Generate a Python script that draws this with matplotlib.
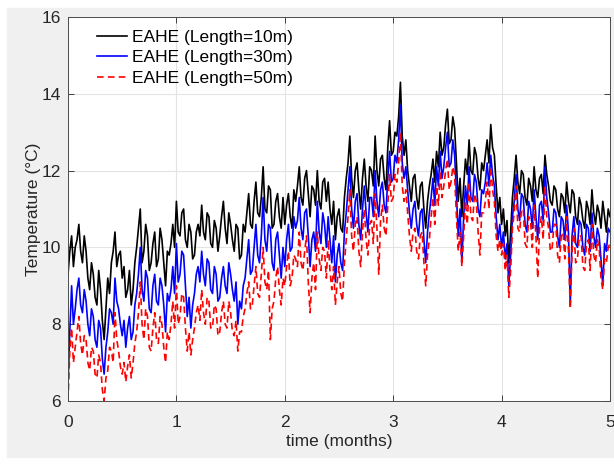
import numpy as np
import matplotlib.pyplot as plt
from matplotlib.patches import Rectangle

# two samples per day, 60 per month
samples_per_month = 60

temp_10m = [
    # month 0
    9.3, 9.9, 10.3, 9.5, 10.0, 10.2, 10.6, 9.9, 9.6, 10.3,
    9.9, 9.2, 8.9, 9.6, 9.3, 8.7, 8.5, 9.4, 8.9, 8.1,
    7.6, 8.4, 9.2, 8.8, 9.6, 9.9, 10.4, 9.5, 9.8, 9.9,
    9.2, 9.5, 8.7, 8.9, 9.4, 8.5, 8.9, 9.6, 10.0, 10.5,
    11.0, 9.6, 9.9, 10.6, 10.3, 9.4, 9.6, 10.1, 10.4, 9.5,
    9.7, 10.5, 10.2, 9.6, 9.0, 9.9, 9.8, 10.1, 10.6, 10.0,
    # month 1
    11.2, 10.4, 10.3, 10.9, 11.0, 10.2, 10.0, 10.6, 10.4, 9.7,
    9.8, 10.4, 10.6, 10.3, 11.1, 10.4, 10.2, 10.9, 10.8, 10.1,
    10.0, 10.7, 10.5, 9.9, 10.3, 10.8, 11.2, 10.5, 10.1, 10.9,
    10.6, 10.2, 9.9, 10.6, 10.5, 9.7, 9.8, 10.6, 10.4, 10.9,
    11.4, 10.6, 10.5, 11.2, 11.7, 10.9, 10.8, 11.3, 12.1, 11.0,
    10.9, 11.6, 11.5, 10.5, 10.6, 11.2, 11.4, 10.8, 10.5, 11.3,
    # month 2
    10.6, 11.1, 11.4, 10.8, 10.5, 11.5, 11.2, 11.6, 12.1, 11.3,
    11.1, 11.8, 12.0, 11.4, 10.8, 11.6, 11.5, 11.1, 12.0, 11.2,
    11.0, 11.7, 11.8, 11.2, 11.7, 11.0, 10.6, 11.2, 10.2, 10.8,
    11.0, 10.5, 10.4, 11.3, 11.8, 12.2, 12.9, 11.8, 11.3, 12.0,
    12.2, 11.5, 11.0, 11.8, 12.3, 11.6, 11.2, 12.1, 12.0, 11.6,
    12.9, 12.0, 11.6, 12.3, 12.4, 11.8, 11.5, 12.6, 13.3, 12.4,
    # month 3
    12.5, 13.0, 12.9, 13.4, 14.3, 12.9, 12.4, 12.8, 12.0, 11.6,
    11.2, 11.8, 11.9, 11.3, 11.0, 11.6, 11.7, 11.0, 10.5, 11.2,
    11.6, 11.9, 12.3, 11.7, 12.5, 12.1, 13.0, 12.4, 12.6, 13.2,
    13.6, 12.7, 12.8, 13.4, 13.1, 12.2, 11.2, 11.8, 10.8, 11.6,
    12.3, 11.9, 12.8, 12.0, 11.9, 12.6, 12.4, 11.8, 11.5, 12.2,
    12.0, 12.4, 12.8, 12.2, 13.2, 12.6, 12.4, 11.6, 10.9, 11.3,
    # month 4
    10.6, 11.0, 10.3, 10.7, 9.6, 10.4, 11.3, 11.8, 12.4, 11.7,
    11.4, 12.0, 11.9, 11.3, 11.1, 11.8, 11.6, 11.2, 12.1, 11.5,
    11.3, 11.8, 11.9, 11.4, 12.4, 11.9, 11.6, 11.2, 11.1, 11.6,
    11.5, 11.0, 10.8, 11.4, 11.3, 10.9, 11.7, 11.2, 10.9, 11.5,
    11.4, 10.8, 10.6, 11.3, 11.1, 10.7, 10.5, 11.2, 11.0, 10.6,
    11.5, 10.9, 10.6, 11.1, 10.9, 10.5, 11.2, 10.8, 10.4, 11.0,
    10.8,
]

temp_30m = [
    # month 0
    6.4, 7.8, 9.0, 8.0, 8.4, 8.9, 9.2, 8.5, 8.3, 8.9,
    8.6, 8.0, 7.7, 8.4, 8.2, 7.6, 7.4, 8.1, 7.9, 7.1,
    6.7, 7.4, 7.8, 8.4, 8.3, 8.0, 9.2, 8.6, 8.4, 8.0,
    7.7, 8.1, 7.4, 7.9, 8.2, 7.6, 7.8, 8.5, 8.8, 9.3,
    10.0, 8.9, 8.6, 9.4, 9.2, 8.4, 8.3, 9.0, 9.3, 8.6,
    8.5, 9.2, 9.0, 8.5, 7.8, 8.8, 8.6, 8.9, 9.5, 8.8,
    # month 1
    10.1, 9.1, 9.3, 9.9, 9.8, 9.0, 8.2, 8.7, 7.9, 8.5,
    8.8, 9.3, 9.5, 9.1, 9.9, 9.3, 9.0, 9.7, 9.6, 8.9,
    8.8, 9.5, 9.3, 8.6, 8.7, 9.2, 9.5, 9.0, 8.8, 9.6,
    9.3, 8.9, 8.6, 9.1, 8.0, 8.6, 8.4, 9.0, 9.2, 9.7,
    10.2, 9.3, 9.4, 10.0, 10.6, 9.8, 9.6, 10.3, 11.3, 10.2,
    9.9, 10.6, 10.5, 9.6, 9.4, 10.2, 10.4, 9.8, 9.2, 10.0,
    # month 2
    9.5, 10.2, 10.6, 9.9, 10.0, 10.8, 10.5, 10.7, 11.3, 10.5,
    10.2, 10.9, 11.0, 10.3, 9.5, 10.2, 10.4, 9.9, 11.2, 10.4,
    10.1, 10.9, 10.6, 10.0, 10.8, 10.2, 9.6, 10.3, 9.1, 9.8,
    10.1, 9.6, 9.4, 10.4, 10.9, 11.5, 12.1, 11.0, 10.5, 11.2,
    11.4, 10.6, 10.2, 11.0, 11.6, 10.9, 10.4, 11.3, 11.3, 10.8,
    12.0, 11.2, 10.8, 11.5, 11.7, 11.1, 10.9, 11.8, 12.5, 11.7,
    # month 3
    11.8, 12.4, 12.2, 12.8, 13.7, 12.2, 11.8, 12.1, 11.5, 10.9,
    10.5, 11.0, 11.2, 10.6, 10.3, 10.9, 11.0, 10.2, 9.6, 10.4,
    10.9, 11.3, 11.8, 11.1, 12.1, 11.6, 12.5, 11.8, 12.1, 12.6,
    13.0, 12.1, 12.2, 12.8, 12.4, 11.4, 10.3, 11.0, 9.6, 10.8,
    11.6, 11.1, 12.1, 11.3, 11.2, 11.9, 11.7, 11.0, 10.8, 11.5,
    11.4, 11.7, 12.2, 11.6, 12.4, 11.9, 11.6, 10.8, 10.2, 10.6,
    # month 4
    10.0, 10.4, 9.7, 10.1, 9.0, 9.8, 10.8, 11.2, 11.9, 11.0,
    10.7, 11.4, 11.3, 10.6, 10.4, 11.2, 11.0, 10.5, 11.5, 10.8,
    10.2, 11.1, 11.2, 10.7, 12.1, 11.3, 10.9, 10.4, 10.4, 11.0,
    10.9, 10.3, 10.0, 10.8, 10.7, 10.2, 11.1, 10.4, 8.5, 10.3,
    10.8, 10.1, 10.0, 10.7, 10.6, 10.0, 9.8, 10.6, 10.5, 9.9,
    10.9, 10.3, 10.0, 10.5, 10.3, 9.7, 9.0, 10.1, 9.9, 10.5,
    10.4,
]

temp_50m = [
    # month 0
    6.0, 7.3, 7.9, 7.0, 7.4, 7.8, 8.2, 7.5, 7.2, 7.7,
    7.6, 7.0, 6.8, 7.4, 7.3, 6.7, 6.6, 7.2, 7.0, 6.3,
    6.0, 6.6, 6.8, 7.4, 7.3, 7.0, 8.3, 7.6, 7.3, 6.9,
    6.7, 7.0, 6.5, 6.9, 7.2, 6.6, 7.0, 7.5, 7.8, 8.3,
    9.1, 8.0, 7.6, 8.4, 8.2, 7.4, 7.3, 7.9, 8.3, 7.6,
    7.5, 8.2, 8.0, 7.4, 7.0, 7.8, 7.6, 8.0, 8.6, 7.9,
    # month 1
    9.0, 8.0, 8.2, 8.8, 8.7, 7.9, 7.3, 7.8, 7.2, 7.6,
    7.9, 8.3, 8.5, 8.1, 8.9, 8.3, 8.0, 8.7, 8.6, 7.9,
    7.9, 8.5, 8.4, 7.7, 7.8, 8.3, 8.6, 8.0, 7.9, 8.6,
    8.3, 7.8, 7.7, 8.1, 7.3, 7.8, 7.8, 8.2, 8.4, 8.8,
    9.1, 8.4, 8.5, 9.0, 9.5, 8.8, 8.7, 9.3, 10.0, 9.1,
    8.9, 9.4, 7.6, 8.4, 8.6, 9.2, 9.5, 8.9, 8.5, 9.2,
    # month 2
    9.0, 9.5, 9.9, 9.0, 9.2, 9.8, 9.7, 9.5, 10.4, 9.6,
    9.4, 9.9, 10.3, 9.1, 8.3, 9.2, 9.6, 8.9, 10.4, 9.7,
    9.4, 10.0, 9.9, 9.2, 10.2, 9.4, 8.9, 9.5, 8.5, 9.1,
    9.5, 8.8, 8.6, 9.6, 10.2, 10.8, 11.5, 10.3, 9.9, 10.6,
    10.8, 9.9, 9.5, 10.4, 11.0, 10.2, 9.8, 10.6, 10.7, 10.1,
    11.4, 10.5, 9.3, 10.7, 11.1, 10.5, 10.3, 11.1, 11.9, 11.2,
    # month 3
    11.3, 11.9, 11.7, 12.2, 13.0, 11.6, 11.2, 11.5, 10.9, 10.3,
    9.9, 10.4, 10.5, 9.9, 9.7, 10.3, 10.4, 9.6, 9.0, 9.8,
    10.2, 10.8, 11.3, 10.6, 11.6, 11.1, 12.0, 11.3, 11.6, 12.0,
    12.3, 11.5, 11.7, 12.1, 11.9, 10.8, 9.9, 10.4, 9.5, 10.3,
    11.2, 10.6, 11.7, 10.8, 10.7, 11.4, 11.2, 10.4, 9.8, 10.9,
    10.9, 11.2, 11.7, 11.0, 12.1, 11.5, 11.2, 10.3, 9.9, 10.2,
    # month 4
    9.8, 10.1, 9.4, 9.8, 8.7, 9.4, 10.5, 10.9, 11.6, 10.5,
    10.4, 11.0, 11.0, 10.1, 10.0, 10.8, 10.7, 10.0, 11.1, 10.3,
    9.2, 10.5, 10.8, 10.2, 11.6, 10.8, 10.5, 9.9, 10.0, 10.6,
    10.6, 9.8, 9.6, 10.3, 10.4, 9.7, 10.8, 9.9, 8.4, 9.9,
    10.5, 9.6, 9.7, 10.3, 10.3, 9.5, 9.4, 10.1, 10.2, 9.4,
    10.6, 9.8, 9.6, 10.2, 10.0, 9.2, 8.9, 9.7, 9.6, 10.0,
    10.1,
]

labels = ["EAHE (Length=10m)", "EAHE (Length=30m)", "EAHE (Length=50m)"]

months = np.arange(len(temp_10m)) / samples_per_month

plt.rcParams['font.family'] = ['Liberation Sans', 'DejaVu Sans']
fs = 12.5
txt_color = "#262626"

fig = plt.figure(figsize=(6.14, 4.65), dpi=100, facecolor="white")
# grey figure area inside the white screenshot margin
bg = Rectangle((7 / 614, 8 / 465), 1, 449 / 465, transform=fig.transFigure,
               color="#f0f0f0", zorder=-10)
fig.add_artist(bg)
ax = fig.add_axes([68 / 614, 64 / 465, 542 / 614, 384 / 465])

ax.plot(months, temp_10m, color="black", lw=1.2, label=labels[0])
ax.plot(months, temp_30m, color="blue", lw=1.2, label=labels[1])
ax.plot(months, temp_50m, color="red", lw=1.2, dashes=(4, 2.5),
        label=labels[2])

ax.set_xlim(0, 5)
ax.set_ylim(6, 16)
ax.set_xticks(range(0, 6))
ax.set_yticks(range(6, 17, 2))
ax.grid(True, color="#e3e3e3", lw=0.8)
ax.set_axisbelow(True)
ax.tick_params(direction="in", top=True, right=True, labelsize=fs,
               colors=txt_color, length=4, width=0.6, pad=5)
ax.tick_params(axis="x", pad=10)
for s in ax.spines.values():
    s.set_color("#4d4d4d")
    s.set_linewidth(0.7)

ax.set_xlabel("time (months)", fontsize=fs, color=txt_color, labelpad=3)
ax.set_ylabel("Temperature (°C)", fontsize=fs, color=txt_color, labelpad=0.5)

ax.legend(loc="upper left", frameon=False, fontsize=fs, handlelength=1.75,
          handletextpad=0.3, borderaxespad=0.0, labelspacing=0.3,
          bbox_to_anchor=(0.04, 0.985))

fig.savefig("out.png", dpi=100, facecolor=fig.get_facecolor())
